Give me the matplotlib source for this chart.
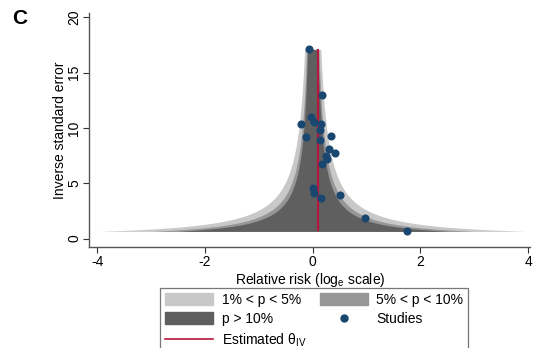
import numpy as np
import matplotlib
matplotlib.use("Agg")
import matplotlib.pyplot as plt
from matplotlib.patches import Patch
from matplotlib.lines import Line2D

plt.rcParams["font.family"] = ["Liberation Sans", "DejaVu Sans"]
plt.rcParams["mathtext.fontset"] = "custom"
plt.rcParams["mathtext.rm"] = "Liberation Sans"
plt.rcParams["mathtext.it"] = "Liberation Sans"

# study estimates (log relative risk) and precision (1 / SE)
log_rr = [-0.07, 0.17, -0.04, -0.21, 0.02, 0.15, 0.13, -0.12, 0.14, 0.34,
          0.31, 0.41, 0.25, 0.26, 0.17, 0.01, 0.02, 0.16, 0.50, 0.98, 1.75]
inv_se = [17.1, 13.0, 10.97, 10.37, 10.5, 10.37, 9.8, 9.17, 8.94, 9.3,
          8.1, 7.7, 7.5, 7.2, 6.7, 4.6, 4.15, 3.65, 3.95, 1.85, 0.65]
theta_iv = 0.09

# contour z-values: 10%, 5%, 1%
z_levels = [1.645, 1.96, 2.576]
contour_colors = ["#5f5f5f", "#969696", "#c8c8c8"]

x_ticks = [-4, -2, 0, 2, 4]
y_ticks = [0, 5, 10, 15, 20]

fig = plt.figure(figsize=(5.35, 3.48), dpi=100)
ax = fig.add_axes([0.167, 0.290, 0.824, 0.673])

prec = np.linspace(min(inv_se), max(inv_se), 400)
for z, col in zip(z_levels[::-1], contour_colors[::-1]):
    ax.fill_betweenx(prec, -z / prec, z / prec, color=col, lw=0, zorder=1)

ax.vlines(theta_iv, min(inv_se), max(inv_se), color="#b8163a", lw=1.5, zorder=2)
ax.scatter(log_rr, inv_se, s=34, color="#1a476f", zorder=3, linewidths=0)

ax.set_xlim(-4.15, 4.04)
ax.set_ylim(-0.77, 20.4)
ax.set_xticks(x_ticks)
ax.set_yticks(y_ticks)
ax.set_xticklabels([str(t) for t in x_ticks])
ax.set_yticklabels([str(t) for t in y_ticks], rotation=90, va="center")
ax.tick_params(labelsize=10, length=4, width=0.8, color="#333333", pad=2)
ax.spines[["top", "right"]].set_visible(False)
for s in ["left", "bottom"]:
    ax.spines[s].set_color("#555555")
    ax.spines[s].set_linewidth(1.0)

ax.set_xlabel("Relative risk (log$_e$ scale)", fontsize=10, labelpad=1)
ax.set_ylabel("Inverse standard error", fontsize=10, labelpad=0)

fig.text(0.022, 0.948, "C", fontsize=15, fontweight="bold", va="center", ha="left")

handles = [
    Patch(color=contour_colors[2], label="1% < p < 5%"),
    Patch(color=contour_colors[0], label="p > 10%"),
    Line2D([], [], color="#b8163a", lw=1.2, label="Estimated θ$_{\\mathrm{IV}}$"),
    Patch(color=contour_colors[1], label="5% < p < 10%"),
    Line2D([], [], ls="none", marker="o", ms=5, color="#1a476f", label="Studies"),
]
leg = fig.legend(handles=handles, ncol=2, loc="upper left",
                 bbox_to_anchor=(0.299, 0.173), fontsize=10, frameon=True,
                 fancybox=False, edgecolor="#555555", handlelength=3.5,
                 handleheight=0.95, labelspacing=0.4, columnspacing=0.95,
                 handletextpad=0.6, borderpad=0.35, borderaxespad=0)
leg.get_frame().set_linewidth(0.9)

fig.savefig("out.png", dpi=100)
